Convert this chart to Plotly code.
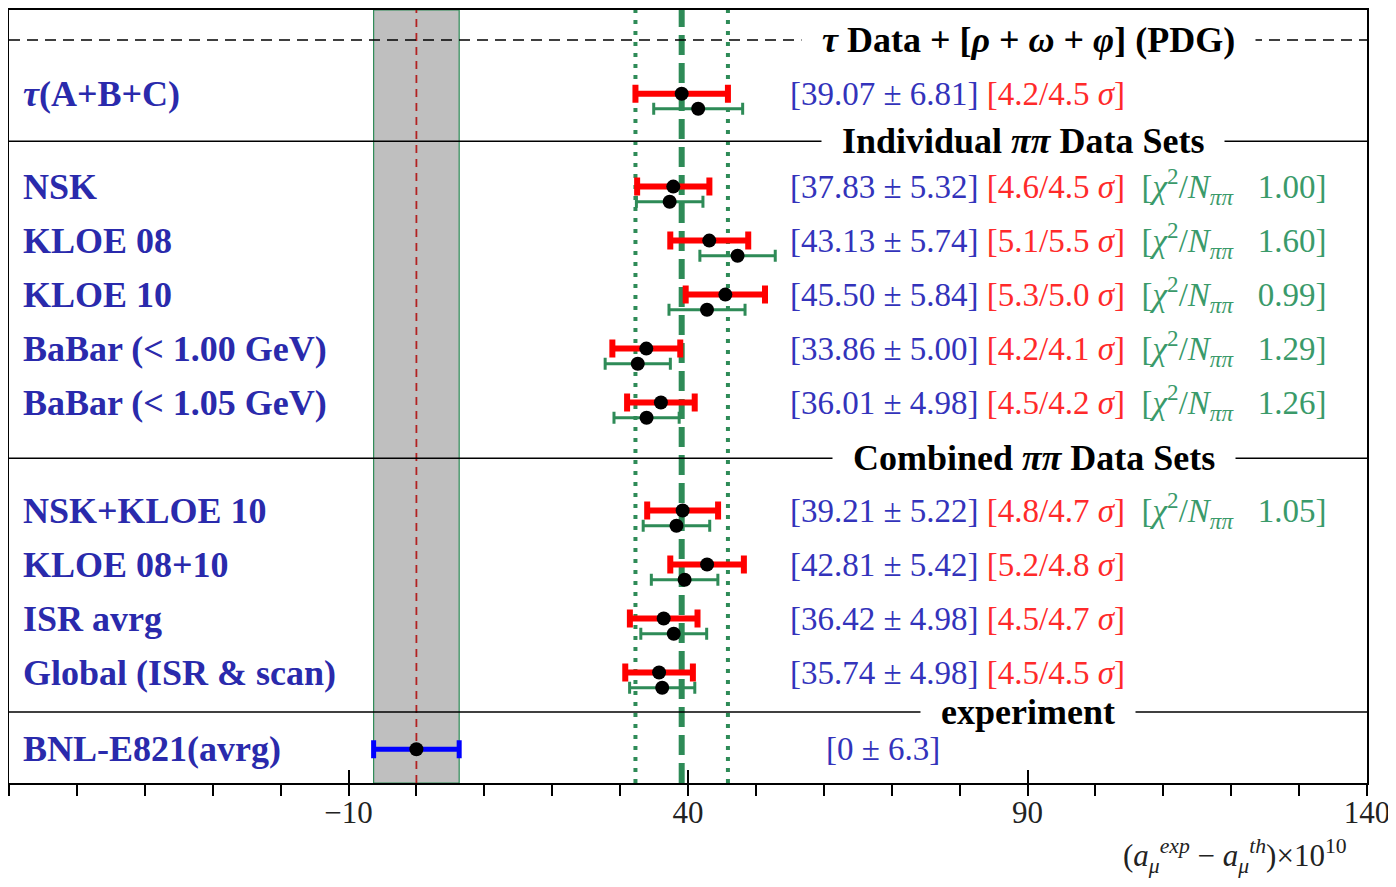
import plotly.graph_objects as go

# ---------------- data ----------------
labels = ["<i>τ</i>(A+B+C)", "NSK", "KLOE 08", "KLOE 10", "BaBar (< 1.00 GeV)",
          "BaBar (< 1.05 GeV)", "NSK+KLOE 10", "KLOE 08+10", "ISR avrg",
          "Global (ISR & scan)"]
group_of = [0, 1, 1, 1, 1, 1, 2, 2, 2, 2]
central = [39.07, 37.83, 43.13, 45.50, 33.86, 36.01, 39.21, 42.81, 36.42, 35.74]
errors = [6.81, 5.32, 5.74, 5.84, 5.00, 4.98, 5.22, 5.42, 4.98, 4.98]
sigma_txt = ["4.2/4.5", "4.6/4.5", "5.1/5.5", "5.3/5.0", "4.2/4.1", "4.5/4.2",
             "4.8/4.7", "5.2/4.8", "4.5/4.7", "4.5/4.5"]
chi2_txt = [None, "1.00", "1.60", "0.99", "1.29", "1.26", "1.05", None, None, None]
alt_central = [41.5, 37.3, 47.3, 42.8, 32.6, 33.9, 38.3, 39.5, 37.9, 36.2]
alt_errors = [6.55, 4.9, 5.55, 5.6, 4.8, 4.8, 4.9, 4.9, 4.85, 4.8]

exp_label = "BNL-E821(avrg)"
exp_central = 0.0
exp_error = 6.3

group_titles = ["<i>τ</i> Data + [<i>ρ</i> + <i>ω</i> + <i>φ</i>] (PDG)",
                "Individual <i>ππ</i> Data Sets",
                "Combined <i>ππ</i> Data Sets",
                "experiment"]
tick_vals = [-10, 40, 90, 140]

# ---------------- layout helpers ----------------
X_RANGE = [-60, 140]
Y_TOP, Y_BOTTOM = 0.0, 14.315
group_start = [1.55, 3.27, 9.27]
title_y = [0.555, 2.43, 8.30, 13.0]
title_x = [90.1, 89.3, 91.0, 90.1]
exp_y = 13.69
alt_offset = 0.28

row_y = []
count = {}
for g in group_of:
    k = count.get(g, 0)
    row_y.append(group_start[g] + k)
    count[g] = k + 1
alt_y = [y + alt_offset for y in row_y]

SERIF = "Liberation Serif"
GREEN = "#2e8b57"
RED = "#ff0000"
LBLUE = "#2a2aac"

fig = go.Figure()

# green (alternative) points
fig.add_trace(go.Scatter(
    x=alt_central, y=alt_y, mode="markers",
    marker=dict(color="black", size=14),
    error_x=dict(type="data", array=alt_errors, color=GREEN, thickness=3, width=6),
    showlegend=False, hoverinfo="x"))
# red (main) points
fig.add_trace(go.Scatter(
    x=central, y=row_y, mode="markers",
    marker=dict(color="black", size=14),
    error_x=dict(type="data", array=errors, color=RED, thickness=6, width=9),
    showlegend=False, hoverinfo="x"))
# experiment
fig.add_trace(go.Scatter(
    x=[exp_central], y=[exp_y], mode="markers",
    marker=dict(color="black", size=14),
    error_x=dict(type="data", array=[exp_error], color="#0000ff", thickness=5, width=9),
    showlegend=False, hoverinfo="x"))
# invisible trace for overlay axis (inside major ticks)
fig.add_trace(go.Scatter(x=[X_RANGE[0]], y=[Y_BOTTOM], xaxis="x2", mode="markers",
                         marker=dict(opacity=0), showlegend=False, hoverinfo="skip"))

shapes = []
# grey experimental band
shapes.append(dict(type="rect", xref="x", yref="y domain",
                   x0=exp_central - exp_error, x1=exp_central + exp_error, y0=0, y1=1,
                   fillcolor="#bfbfbf", line=dict(color=GREEN, width=1.2), layer="below"))
shapes.append(dict(type="line", xref="x", yref="y domain", x0=exp_central, x1=exp_central,
                   y0=0, y1=1, line=dict(color="#b22222", width=1.8, dash="8px,6px"),
                   layer="below"))
# tau reference band lines
shapes.append(dict(type="line", xref="x", yref="y domain", x0=central[0], x1=central[0],
                   y0=0, y1=1, line=dict(color=GREEN, width=6, dash="20px,8px"), layer="below"))
for xv in (central[0] - errors[0], central[0] + errors[0]):
    shapes.append(dict(type="line", xref="x", yref="y domain", x0=xv, x1=xv, y0=0, y1=1,
                       line=dict(color=GREEN, width=4, dash="4px,7px"), layer="below"))
# header dashed line
shapes.append(dict(type="line", xref="paper", yref="y", x0=0, x1=1, y0=title_y[0], y1=title_y[0],
                   line=dict(color="black", width=1.6, dash="11px,7px"), layer="below"))
# separators
for ys in title_y[1:]:
    shapes.append(dict(type="line", xref="paper", yref="y", x0=0, x1=1, y0=ys, y1=ys,
                       line=dict(color="black", width=1.6), layer="below"))

annotations = []
pad = "\u00a0\u00a0"
for t, tx, ty in zip(group_titles, title_x, title_y):
    annotations.append(dict(x=tx, y=ty, xref="x", yref="y", text=pad + "<b>" + t + "</b>" + pad,
                            xanchor="center", showarrow=False, bgcolor="white", borderpad=2,
                            font=dict(family=SERIF, size=36, color="black")))

for lab, y, c, e, s, chi in zip(labels, row_y, central, errors, sigma_txt, chi2_txt):
    annotations.append(dict(x=0.0088, y=y, xref="paper", yref="y", text="<b>" + lab + "</b>",
                            xanchor="left", showarrow=False,
                            font=dict(family=SERIF, size=36, color=LBLUE)))
    txt = (f'<span style="color:#3333bb">[{c:.2f} ± {e:.2f}]</span> '
           f'<span style="color:#ff2a2a">[{s} <i>σ</i>]</span>')
    if chi is not None:
        txt += (f'\u00a0 <span style="color:#3a9a6a">[<i>χ</i><sup>2</sup>/<i>N</i>'
                f'<sub><i>ππ</i></sub>\u00a0\u00a0 {chi}]</span>')
    annotations.append(dict(x=0.5735, y=y, xref="paper", yref="y", text=txt,
                            xanchor="left", showarrow=False,
                            font=dict(family=SERIF, size=33, color="#3333bb")))

annotations.append(dict(x=0.0088, y=exp_y, xref="paper", yref="y", text="<b>" + exp_label + "</b>",
                        xanchor="left", showarrow=False,
                        font=dict(family=SERIF, size=36, color=LBLUE)))
annotations.append(dict(x=0.600, y=exp_y, xref="paper", yref="y",
                        text=f"[{exp_central:.0f} ± {exp_error}]",
                        xanchor="left", showarrow=False,
                        font=dict(family=SERIF, size=33, color="#3333bb")))
# axis title
annotations.append(dict(x=0.9028, y=-0.064, xref="paper", yref="paper",
                        xanchor="center", yanchor="top",
                        text="(<i>a</i><sub><i>μ</i></sub><sup><i>exp</i></sup> − "
                             "<i>a</i><sub><i>μ</i></sub><sup><i>th</i></sup>)×10<sup>10</sup>",
                        showarrow=False, font=dict(family=SERIF, size=31, color="#222")))

fig.update_layout(
    template="none",
    width=1388, height=871,
    margin=dict(l=1, r=29, t=2, b=96),
    paper_bgcolor="white", plot_bgcolor="white",
    shapes=shapes, annotations=annotations,
    xaxis=dict(range=X_RANGE, tickmode="array", tickvals=tick_vals,
               ticks="outside", ticklen=11, tickwidth=1.6, tickcolor="black",
               ticklabelstandoff=-10,
               minor=dict(dtick=10, tick0=0, ticks="outside", ticklen=11, tickwidth=1.6,
                          tickcolor="black", showgrid=False),
               showline=True, mirror=True, linecolor="black", linewidth=2,
               showgrid=False, zeroline=False, automargin=False,
               tickfont=dict(family=SERIF, size=31, color="#222")),
    xaxis2=dict(range=X_RANGE, overlaying="x", anchor="y", side="bottom",
                tickmode="array", tickvals=tick_vals, ticks="inside", ticklen=13,
                tickwidth=1.6, tickcolor="black", showticklabels=False,
                showline=False, showgrid=False, zeroline=False, automargin=False),
    yaxis=dict(range=[Y_BOTTOM, Y_TOP], showticklabels=False, ticks="",
               showline=True, mirror=True, linecolor="black", linewidth=2,
               showgrid=False, zeroline=False, automargin=False),
    hovermode="closest",
)

fig.write_html("out.html")
